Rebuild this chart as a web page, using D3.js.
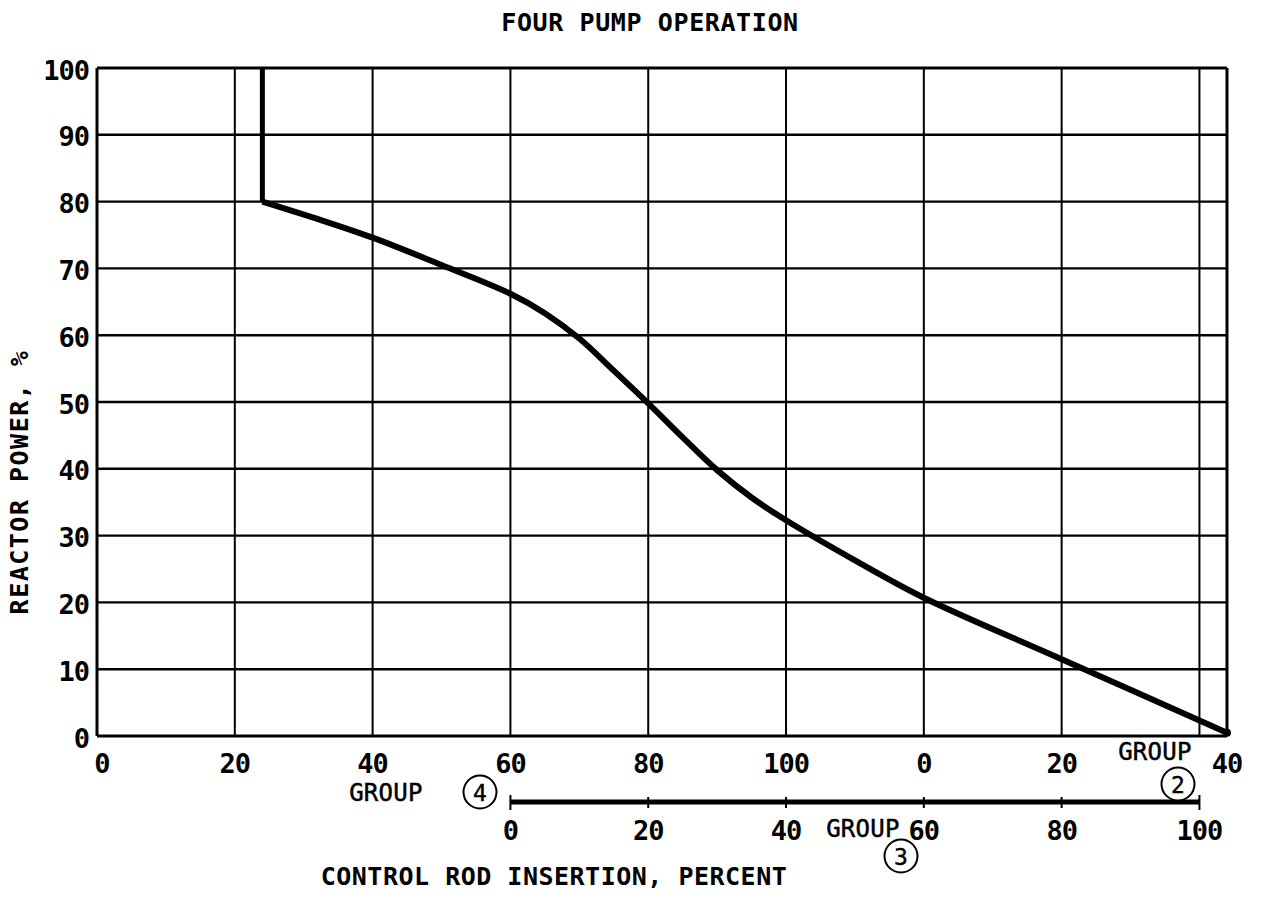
<!DOCTYPE html>
<html>
<head>
<meta charset="utf-8">
<script src="https://cdn.jsdelivr.net/npm/d3@7"></script>
<style>
  html, body { margin: 0; padding: 0; background: #fff; }
  svg { display: block; }
  text { font-family: "DejaVu Sans Mono", monospace; fill: #000; }
</style>
</head>
<body>
<svg id="chart" width="1261" height="900"></svg>
<script>
// ---------- data ----------
const powerTicks = [0, 10, 20, 30, 40, 50, 60, 70, 80, 90, 100];
// combined rod-position axis: Group 4 (0-100) followed by Group 2
const positionTicks = [0, 20, 40, 60, 80, 100, 120, 140, 164];
const positionTickLabels = ["0", "20", "40", "60", "80", "100", "0", "20", "40"];
const gridPositions = [0, 20, 40, 60, 80, 100, 120, 140, 160, 164];
const group3Ticks = [0, 20, 40, 60, 80, 100];
const group3Labels = ["0", "20", "40", "60", "80", "100"];
// power limit curve: vertical limit then insertion curve
const verticalLimit = [[24, 100], [24, 80]];
const limitCurve = [
  [24, 80], [32, 77.4], [40, 74.6], [50, 70.5], [60, 66.2], [65, 63.3],
  [70, 59.5], [75, 54.7], [80, 49.8], [85, 44.7], [90, 39.8], [95, 35.7],
  [100, 32.3], [110, 26.3], [120, 20.7], [140, 11.5], [164, 0.5]
];

// ---------- scales ----------
const svg = d3.select("#chart");
const x = d3.scaleLinear().domain([0, 164]).range([97, 1227]);
const y = d3.scaleLinear().domain([0, 100]).range([736, 68]);
const g3 = d3.scaleLinear().domain([0, 100]).range([x(60), x(160)]);

// ---------- grid ----------
svg.append("g").selectAll("line").data(powerTicks).join("line")
  .attr("x1", x(0)).attr("x2", x(164))
  .attr("y1", d => y(d)).attr("y2", d => y(d))
  .attr("stroke", "#000").attr("stroke-width", d => (d === 0 || d === 100) ? 3 : 2.4);

svg.append("g").selectAll("line").data(gridPositions).join("line")
  .attr("x1", d => x(d)).attr("x2", d => x(d))
  .attr("y1", y(0)).attr("y2", y(100))
  .attr("stroke", "#000").attr("stroke-width", d => (d === 0 || d === 164) ? 3 : 2);

// ---------- y tick labels ----------
svg.append("g").selectAll("text").data(powerTicks).join("text")
  .attr("x", 89).attr("y", d => y(d) + 2)
  .attr("text-anchor", "end").attr("dominant-baseline", "central")
  .attr("font-size", 27).attr("font-weight", "bold").attr("letter-spacing", -1)
  .text(d => d);

// ---------- x tick labels (Group 4 / Group 2) ----------
svg.append("g").selectAll("text").data(positionTicks).join("text")
  .attr("x", (d, i) => x(d) + (i === 0 ? 5 : 0)).attr("y", 763)
  .attr("text-anchor", "middle").attr("dominant-baseline", "central")
  .attr("font-size", 27).attr("font-weight", "bold").attr("letter-spacing", -1)
  .text((d, i) => positionTickLabels[i]);

// ---------- curve ----------
svg.append("path").datum(verticalLimit)
  .attr("d", d3.line().x(d => x(d[0])).y(d => y(d[1])))
  .attr("fill", "none").attr("stroke", "#000").attr("stroke-width", 5);
svg.append("path").datum(limitCurve)
  .attr("d", d3.line().x(d => x(d[0])).y(d => y(d[1])).curve(d3.curveCatmullRom.alpha(0.5)))
  .attr("fill", "none").attr("stroke", "#000").attr("stroke-width", 6)
  .attr("stroke-linejoin", "round");
svg.append("circle")
  .attr("cx", x(limitCurve[limitCurve.length - 1][0]))
  .attr("cy", y(limitCurve[limitCurve.length - 1][1]))
  .attr("r", 4).attr("fill", "#000");

// ---------- Group 3 scale bar ----------
const barY = 802;
svg.append("line")
  .attr("x1", g3(0)).attr("x2", g3(100)).attr("y1", barY).attr("y2", barY)
  .attr("stroke", "#000").attr("stroke-width", 5);
svg.append("g").selectAll("line").data(group3Ticks).join("line")
  .attr("x1", d => g3(d)).attr("x2", d => g3(d))
  .attr("y1", d => barY - ((d === 0 || d === 100) ? 7 : 5))
  .attr("y2", d => barY + ((d === 0 || d === 100) ? 8 : 6))
  .attr("stroke", "#000").attr("stroke-width", 2);
svg.append("g").selectAll("text").data(group3Ticks).join("text")
  .attr("x", d => g3(d)).attr("y", 830)
  .attr("text-anchor", "middle").attr("dominant-baseline", "central")
  .attr("font-size", 27).attr("font-weight", "bold").attr("letter-spacing", -1)
  .text((d, i) => group3Labels[i]);

// ---------- group labels ----------
function groupLabel(tx, ty, cx, cy, num) {
  svg.append("text").attr("x", tx).attr("y", ty)
    .attr("text-anchor", "middle").attr("dominant-baseline", "central")
    .attr("font-size", 24).attr("letter-spacing", 0.3)
    .attr("stroke", "#000").attr("stroke-width", 0.5)
    .text("GROUP");
  svg.append("circle").attr("cx", cx).attr("cy", cy).attr("r", 16.5)
    .attr("fill", "#fff").attr("stroke", "#000").attr("stroke-width", 2);
  svg.append("text").attr("x", cx).attr("y", cy + 1)
    .attr("text-anchor", "middle").attr("dominant-baseline", "central")
    .attr("font-size", 23).attr("stroke", "#000").attr("stroke-width", 0.4)
    .text(num);
}
groupLabel(386, 793, 480, 792, "4");
groupLabel(1155, 752, 1178, 784, "2");
groupLabel(863, 829, 901, 856, "3");

// ---------- titles ----------
svg.append("text").attr("x", 650).attr("y", 22)
  .attr("text-anchor", "middle").attr("dominant-baseline", "central")
  .attr("font-size", 25).attr("font-weight", "bold").attr("letter-spacing", 0.6)
  .text("FOUR PUMP OPERATION");

svg.append("text").attr("x", 554).attr("y", 876)
  .attr("text-anchor", "middle").attr("dominant-baseline", "central")
  .attr("font-size", 25).attr("font-weight", "bold").attr("letter-spacing", 0.5)
  .text("CONTROL ROD INSERTION, PERCENT");

svg.append("text")
  .attr("transform", "translate(19,482) rotate(-90)")
  .attr("text-anchor", "middle").attr("dominant-baseline", "central")
  .attr("font-size", 25).attr("font-weight", "bold").attr("letter-spacing", 1.5)
  .text("REACTOR POWER, %");
</script>
</body>
</html>
